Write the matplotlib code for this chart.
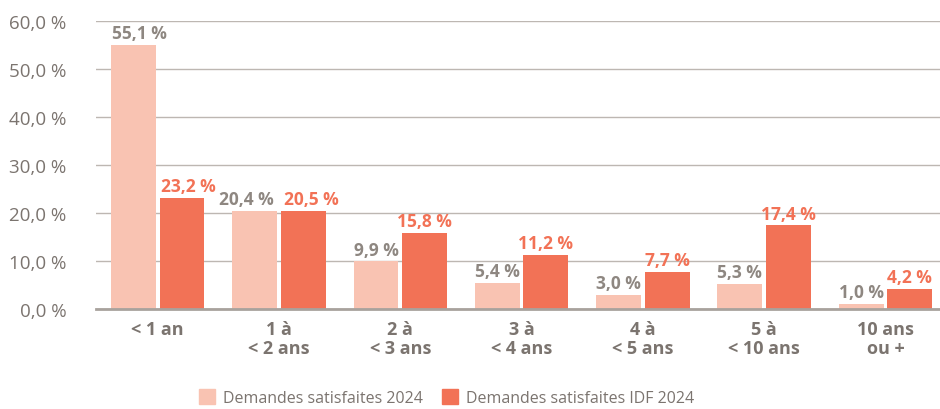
import numpy as np
import matplotlib.pyplot as plt
from matplotlib.patches import Patch

plt.rcParams['font.family'] = ['Open Sans', 'DejaVu Sans']

categories = ["< 1 an", "1 à\n< 2 ans", "2 à\n< 3 ans", "3 à\n< 4 ans",
              "4 à\n< 5 ans", "5 à\n< 10 ans", "10 ans\nou +"]
satisfaites_2024 = [55.1, 20.4, 9.9, 5.4, 3.0, 5.3, 1.0]
satisfaites_idf_2024 = [23.2, 20.5, 15.8, 11.2, 7.7, 17.4, 4.2]
series_names = ["Demandes satisfaites 2024", "Demandes satisfaites IDF 2024"]

light = "#F9C3B2"
dark = "#F27256"
grey = "#7B746F"

fig = plt.figure(figsize=(9.4, 4.1), dpi=100)
ax = fig.add_axes([0.102, 0.244, 0.898, 0.702])

x = np.arange(len(categories))
w = 0.37
ax.bar(x - 0.2, satisfaites_2024, w, color=light, zorder=3)
ax.bar(x + 0.2, satisfaites_idf_2024, w, color=dark, zorder=3)

def fmt(v):
    return f"{v:.1f}".replace(".", ",") + " %"

# small horizontal nudges so close labels don't collide
nudge = [0.05, 0.07, 0.0, 0.0, 0.0, 0.0, 0.0]
for xi, v, n in zip(x, satisfaites_2024, nudge):
    shift = -n if xi == 1 else n
    ax.text(xi - 0.2 + shift, v + 0.6, fmt(v), ha="center", va="bottom",
            fontsize=12.5, fontweight="bold", color="#8E8781")
for xi, v, n in zip(x, satisfaites_idf_2024, nudge):
    ax.text(xi + 0.2 + n, v + 0.6, fmt(v), ha="center", va="bottom",
            fontsize=12.5, fontweight="bold", color=dark)

ax.set_ylim(0, 60)
ax.set_xlim(-0.51, 6.45)
ax.set_yticks(np.arange(0, 61, 10))
ax.set_yticklabels([fmt(t) for t in np.arange(0, 61, 10)], fontsize=13.5, color=grey)
ax.set_xticks(x)
ax.set_xticklabels(categories, fontsize=13, fontweight="bold", color=grey,
                   linespacing=1.1)
ax.tick_params(axis="both", length=0)
ax.tick_params(axis="y", pad=21)
ax.tick_params(axis="x", pad=8)
ax.grid(axis="y", color="#BDB7B2", linewidth=1, zorder=0)
for s in ["top", "right", "left"]:
    ax.spines[s].set_visible(False)
ax.spines["bottom"].set_color("#A8A29D")
ax.spines["bottom"].set_linewidth(2)
ax.spines["bottom"].set_zorder(4)

handles = [Patch(color=light), Patch(color=dark)]
fig.legend(handles, series_names, loc="lower center", bbox_to_anchor=(0.475, -0.028),
           ncol=2, frameon=False, fontsize=11.5, labelcolor=grey,
           handlelength=1.0, handleheight=1.0, handletextpad=0.5, columnspacing=1.2)

fig.savefig("out.png", dpi=100)
